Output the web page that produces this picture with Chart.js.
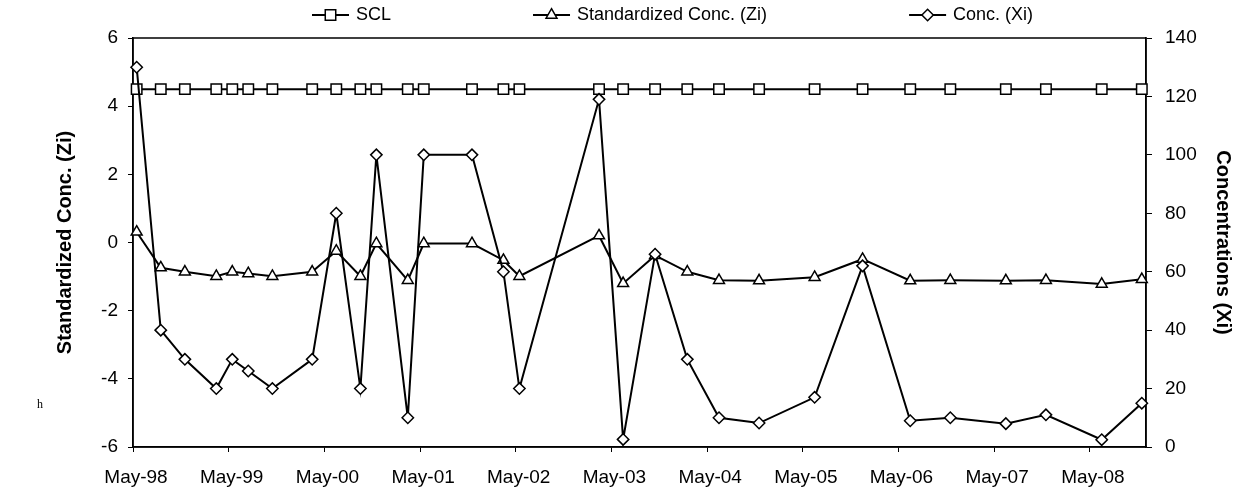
<!DOCTYPE html>
<html>
<head>
<meta charset="utf-8">
<script src="https://cdn.jsdelivr.net/npm/chart.js@4/dist/chart.umd.min.js"></script>
<style>
  html, body { margin: 0; padding: 0; background: #fff; }
  #grafico { display: block; }
</style>
</head>
<body>
<canvas id="grafico" width="1243" height="491"></canvas>
<script>
// Sampling dates (approx.)
const sampleDates = [
    '1998-05-15', '1998-08-15', '1998-11-15', '1999-03-15', '1999-05-15',
    '1999-07-15', '1999-10-15', '2000-03-15', '2000-06-15', '2000-09-15',
    '2000-11-15', '2001-03-15', '2001-05-15', '2001-11-15', '2002-03-15',
    '2002-05-15', '2003-03-15', '2003-06-15', '2003-10-15', '2004-02-15',
    '2004-06-15', '2004-11-15', '2005-06-15', '2005-12-15', '2006-06-15',
    '2006-11-15', '2007-06-15', '2007-11-15', '2008-06-15', '2008-11-15'
];

const sclValues = [
    4.5, 4.5, 4.5, 4.5, 4.5, 4.5, 4.5, 4.5, 4.5, 4.5,
    4.5, 4.5, 4.5, 4.5, 4.5, 4.5, 4.5, 4.5, 4.5, 4.5,
    4.5, 4.5, 4.5, 4.5, 4.5, 4.5, 4.5, 4.5, 4.5, 4.5
];

const ziValues = [
    0.31, -0.74, -0.86, -0.99, -0.86, -0.91, -0.99, -0.86, -0.25, -0.99,
    -0.03, -1.11, -0.03, -0.03, -0.52, -0.99, 0.20, -1.20, -0.38, -0.86,
    -1.11, -1.12, -1.02, -0.49, -1.12, -1.11, -1.12, -1.11, -1.22, -1.08
];

const xiValues = [
    130, 40, 30, 20, 30, 26, 20, 30, 80, 20,
    100, 10, 100, 100, 60, 20, 119, 2.6, 66, 30,
    10, 8.2, 17, 62, 9, 10, 8, 11, 2.5, 15
];

const tickDates = [
    '1998-05-01', '1999-05-01', '2000-05-01', '2001-05-01', '2002-05-01', '2003-05-01',
    '2004-05-01', '2005-05-01', '2006-05-01', '2007-05-01', '2008-05-01'
];
const tickLabels = [
    'May-98', 'May-99', 'May-00', 'May-01', 'May-02', 'May-03',
    'May-04', 'May-05', 'May-06', 'May-07', 'May-08'
];

const FONTE = '"Liberation Sans", Arial, Helvetica, sans-serif';

function toDay(s) {
    const p = s.split('-').map(Number);
    return Date.UTC(p[0], p[1] - 1, p[2]) / 86400000;
}

function pontos(valores) {
    return sampleDates.map((d, i) => ({ x: toDay(d), y: valores[i] }));
}

function serie(label, valores, eixo, estilo, raio, ordem) {
    return {
        label: label,
        data: pontos(valores),
        yAxisID: eixo,
        borderColor: '#000',
        borderWidth: 2,
        pointStyle: estilo,
        pointRadius: raio,
        pointHoverRadius: raio,
        pointBackgroundColor: '#fff',
        pointBorderColor: '#000',
        pointBorderWidth: 1.5,
        tension: 0,
        fill: false,
        clip: false,
        order: ordem
    };
}

// moldura da área do gráfico
const moldura = {
    id: 'moldura',
    beforeDatasetsDraw(chart) {
        const a = chart.chartArea;
        const ctx = chart.ctx;
        ctx.save();
        ctx.strokeStyle = '#000';
        ctx.lineWidth = 1.5;
        ctx.strokeRect(a.left, a.top, a.right - a.left, a.bottom - a.top);
        ctx.restore();
    }
};

// legenda no estilo Excel (linha + marcador)
const legenda = {
    id: 'legenda',
    afterDraw(chart) {
        const ctx = chart.ctx;
        ctx.save();
        ctx.font = '18px ' + FONTE;
        ctx.textBaseline = 'middle';
        ctx.textAlign = 'left';
        let x = 312;
        const y = 15;
        chart.data.datasets.forEach(ds => {
            ctx.strokeStyle = '#000';
            ctx.lineWidth = 2;
            ctx.beginPath();
            ctx.moveTo(x, y);
            ctx.lineTo(x + 37, y);
            ctx.stroke();
            ctx.fillStyle = '#fff';
            ctx.lineWidth = 1.5;
            Chart.helpers.drawPoint(ctx, {
                pointStyle: ds.pointStyle,
                radius: ds.pointRadius,
                rotation: 0,
                borderWidth: 1.5
            }, x + 18.5, y);
            ctx.fillStyle = '#000';
            ctx.fillText(ds.label, x + 44, y);
            x += 44 + ctx.measureText(ds.label).width + 142;
        });
        // marca solta à esquerda
        ctx.font = '12px "Liberation Serif", "DejaVu Serif", serif';
        ctx.fillText('h', 37, 405);
        ctx.restore();
    }
};

new Chart(document.getElementById('grafico').getContext('2d'), {
    type: 'line',
    data: {
        datasets: [
            serie('SCL', sclValues, 'y', 'rect', 7.4, 3),
            serie('Standardized Conc. (Zi)', ziValues, 'y', 'triangle', 6.3, 2),
            serie('Conc. (Xi)', xiValues, 'y1', 'rectRot', 5.7, 1)
        ]
    },
    options: {
        responsive: false,
        animation: false,
        events: [],
        layout: { padding: { left: 53, right: 8, top: 38, bottom: 0 } },
        plugins: {
            legend: { display: false },
            tooltip: { enabled: false }
        },
        scales: {
            x: {
                type: 'linear',
                min: toDay('1998-05-01'),
                max: toDay('2008-12-01'),
                afterBuildTicks: function(scale) {
                    scale.ticks = tickDates.map(d => ({ value: toDay(d) }));
                },
                afterFit: function(scale) { scale.height = 44; },
                ticks: {
                    autoSkip: false,
                    maxRotation: 0,
                    padding: 14,
                    labelOffset: 3,
                    color: '#000',
                    font: { family: FONTE, size: 19 },
                    callback: function(value) {
                        const i = tickDates.findIndex(d => toDay(d) === value);
                        return i >= 0 ? tickLabels[i] : '';
                    }
                },
                grid: { drawOnChartArea: false, tickLength: 5, color: '#000' },
                border: { color: '#000', width: 1.5 }
            },
            y: {
                position: 'left',
                min: -6,
                max: 6,
                afterFit: function(scale) { scale.width = 80; },
                ticks: {
                    stepSize: 2,
                    padding: 10,
                    color: '#000',
                    font: { family: FONTE, size: 19 }
                },
                title: {
                    display: true,
                    text: 'Standardized Conc. (Zi)',
                    color: '#000',
                    padding: 0,
                    font: { family: FONTE, size: 20, weight: 'bold' }
                },
                grid: { drawOnChartArea: false, tickLength: 5, color: '#000' },
                border: { color: '#000', width: 1.5 }
            },
            y1: {
                position: 'right',
                min: 0,
                max: 140,
                afterFit: function(scale) { scale.width = 89; },
                ticks: {
                    stepSize: 20,
                    padding: 13,
                    color: '#000',
                    font: { family: FONTE, size: 19 }
                },
                title: {
                    display: true,
                    text: 'Concentrations (Xi)',
                    color: '#000',
                    padding: 0,
                    font: { family: FONTE, size: 20, weight: 'bold' }
                },
                grid: { drawOnChartArea: false, tickLength: 6, color: '#000' },
                border: { color: '#000', width: 1.5 }
            }
        }
    },
    plugins: [moldura, legenda]
});
</script>
</body>
</html>
